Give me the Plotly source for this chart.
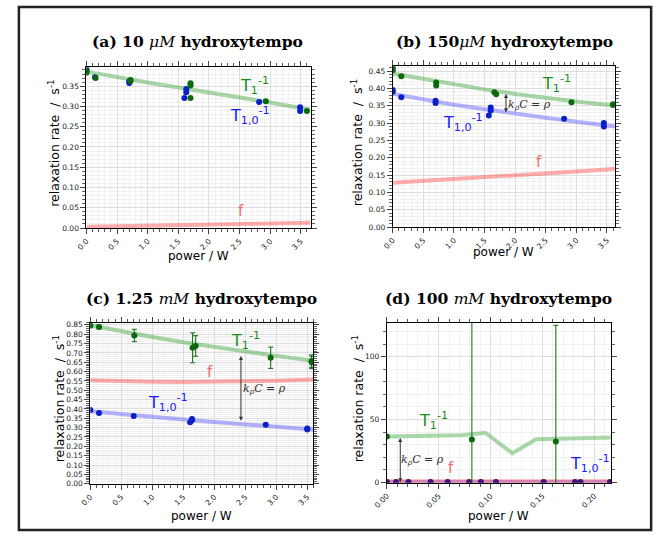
import plotly.graph_objects as go

W, H = 657, 542

# ---------------- data ----------------
# (a) 10 uM
a_t1_x = [0, 0, 0.15, 0.72, 0.72, 1.70, 1.70, 1.70, 2.93, 3.60]
a_t1_y = [0.389, 0.383, 0.370, 0.363, 0.365, 0.357, 0.352, 0.321, 0.313, 0.289]
a_t10_x = [0, 0, 0.14, 0.70, 0.70, 1.60, 1.63, 1.63, 2.82, 3.49, 3.49]
a_t10_y = [0.392, 0.386, 0.372, 0.358, 0.362, 0.321, 0.343, 0.335, 0.311, 0.298, 0.289]
a_fit_x = [0, 0.5, 1.0, 1.5, 2.0, 2.5, 3.0, 3.5, 3.66]
a_fit_t1 = [0.386, 0.372, 0.359, 0.347, 0.335, 0.322, 0.310, 0.296, 0.292]
a_fit_f = [0.003, 0.0045, 0.006, 0.0075, 0.009, 0.010, 0.011, 0.0125, 0.013]

# (b) 150 uM
b_t1_x = [0, 0, 0.14, 0.71, 0.71, 1.66, 1.69, 2.92, 3.60, 3.60]
b_t1_y = [0.460, 0.452, 0.435, 0.417, 0.408, 0.389, 0.383, 0.360, 0.354, 0.352]
b_t10_x = [0, 0, 0.14, 0.70, 0.70, 1.57, 1.60, 1.60, 2.80, 3.45, 3.45]
b_t10_y = [0.395, 0.390, 0.374, 0.364, 0.358, 0.322, 0.345, 0.336, 0.312, 0.300, 0.290]
b_fit_x = [0, 0.5, 1.0, 1.5, 2.0, 2.5, 3.0, 3.5, 3.63]
b_fit_t1 = [0.443, 0.427, 0.411, 0.397, 0.384, 0.372, 0.362, 0.353, 0.351]
b_fit_t10 = [0.384, 0.368, 0.353, 0.340, 0.327, 0.315, 0.304, 0.293, 0.290]
b_fit_f = [0.128, 0.133, 0.139, 0.144, 0.150, 0.155, 0.160, 0.166, 0.168]

# (c) 1.25 mM
c_t1_x = [0, 0.14, 0.71, 1.65, 1.70, 2.91, 3.57, 3.57]
c_t1_y = [0.845, 0.839, 0.793, 0.727, 0.737, 0.674, 0.656, 0.650]
c_t1_err = [0.008, 0.01, 0.033, 0.08, 0.055, 0.057, 0.033, 0.033]
c_t10_x = [0, 0.14, 0.70, 1.61, 1.64, 1.64, 2.83, 3.50, 3.50]
c_t10_y = [0.395, 0.378, 0.362, 0.329, 0.346, 0.340, 0.315, 0.296, 0.290]
c_fit_x = [0, 0.5, 1.0, 1.5, 2.0, 2.5, 3.0, 3.5, 3.6]
c_fit_t1 = [0.848, 0.815, 0.785, 0.757, 0.731, 0.706, 0.684, 0.662, 0.657]
c_fit_t10 = [0.388, 0.372, 0.357, 0.343, 0.330, 0.318, 0.307, 0.294, 0.290]
c_fit_f = [0.553, 0.548, 0.545, 0.544, 0.545, 0.547, 0.551, 0.556, 0.557]

# (d) 100 mM
d_t1_x = [0, 0.082, 0.163]
d_t1_y = [36.4, 34.1, 32.5]
d_t1_err = [0, 110, 92.5]
d_t10_x = [0, 0.0088, 0.0208, 0.0422, 0.0586, 0.0794, 0.0907, 0.1052, 0.1512, 0.1815, 0.1868, 0.2152]
d_t10_y = [0.3, 0.3, 0.3, 0.3, 0.3, 0.3, 0.3, 0.3, 0.3, 0.3, 0.3, 0.3]
d_fit_t1_x = [0, 0.072, 0.095, 0.121, 0.144, 0.216]
d_fit_t1 = [36.4, 37.5, 39.5, 23.1, 34.3, 35.6]
d_fit_x = [0, 0.216]
d_fit_t10 = [0.3, 0.3]
d_fit_f = [0.8, 0.8]

# tick labels
x_ticks_abc = [0.0, 0.5, 1.0, 1.5, 2.0, 2.5, 3.0, 3.5]
x_ticks_d = [0.00, 0.05, 0.10, 0.15, 0.20]
y_ticks_ab = [0.00, 0.05, 0.10, 0.15, 0.20, 0.25, 0.30, 0.35, 0.40, 0.45]
y_ticks_c = [0.00, 0.05, 0.10, 0.15, 0.20, 0.25, 0.30, 0.35, 0.40,
             0.45, 0.50, 0.55, 0.60, 0.65, 0.70, 0.75, 0.80, 0.85]
y_ticks_d = [0, 50, 100]

titles = ["<b>(a) 10 </b><i>μM</i><b> hydroxytempo</b>",
          "<b>(b) 150</b><i>μM</i><b> hydroxytempo</b>",
          "<b>(c) 1.25 </b><i>mM</i><b> hydroxytempo</b>",
          "<b>(d) 100 </b><i>mM</i><b> hydroxytempo</b>"]

# ---------------- style ----------------
GREEN_PT = "#0a6a0a"
BLUE_PT = "#0a1fc8"
GREEN_LINE = "rgba(40,155,40,0.40)"
BLUE_LINE = "rgba(60,60,255,0.38)"
RED_LINE = "rgba(255,60,60,0.42)"
GREEN_TXT = "#1c8c1c"
BLUE_TXT = "#1a1aff"
RED_TXT = "#f07070"

# pixel boxes (left, top, right, bottom)
boxes = [(74, 66, 303, 229), (387, 65, 614, 228), (78, 325, 306, 488), (381, 325, 610, 487)]

fig = go.Figure()


def ids(i):
    s = "" if i == 0 else str(i + 1)
    return "x" + s, "y" + s


def add_panel(i, fit_x, fit_t10, fit_t1, fit_f, t10_x, t10_y, t1_x, t1_y,
              t1_err=None, fit_t1_x=None, t10_color=BLUE_PT):
    xa, ya = ids(i)
    if fit_t10 is not None:
        fig.add_trace(go.Scatter(x=fit_x, y=fit_t10, mode="lines", line=dict(color=BLUE_LINE, width=4),
                                 xaxis=xa, yaxis=ya, showlegend=False, hoverinfo="skip"))
    fig.add_trace(go.Scatter(x=fit_t1_x if fit_t1_x is not None else fit_x, y=fit_t1, mode="lines",
                             line=dict(color=GREEN_LINE, width=4),
                             xaxis=xa, yaxis=ya, showlegend=False, hoverinfo="skip"))
    fig.add_trace(go.Scatter(x=fit_x, y=fit_f, mode="lines", line=dict(color=RED_LINE, width=4),
                             xaxis=xa, yaxis=ya, showlegend=False, hoverinfo="skip"))
    fig.add_trace(go.Scatter(x=t10_x, y=t10_y, mode="markers", marker=dict(color=t10_color, size=6),
                             xaxis=xa, yaxis=ya, showlegend=False, cliponaxis=True))
    err = None
    if t1_err is not None:
        err = dict(type="data", array=t1_err, color=GREEN_PT, thickness=1, width=2.5)
    fig.add_trace(go.Scatter(x=t1_x, y=t1_y, mode="markers", marker=dict(color=GREEN_PT, size=6),
                             error_y=err, xaxis=xa, yaxis=ya, showlegend=False, cliponaxis=True))


add_panel(0, a_fit_x, None, a_fit_t1, a_fit_f, a_t10_x, a_t10_y, a_t1_x, a_t1_y)
add_panel(1, b_fit_x, b_fit_t10, b_fit_t1, b_fit_f, b_t10_x, b_t10_y, b_t1_x, b_t1_y)
add_panel(2, c_fit_x, c_fit_t10, c_fit_t1, c_fit_f, c_t10_x, c_t10_y, c_t1_x, c_t1_y, t1_err=c_t1_err)
add_panel(3, d_fit_x, d_fit_t10, d_fit_t1, d_fit_f, d_t10_x, d_t10_y, d_t1_x, d_t1_y,
          t1_err=d_t1_err, fit_t1_x=d_fit_t1_x, t10_color="#3a1478")

TICKFONT = dict(family="DejaVu Sans", size=7.5, color="#222")


def axis_common(domain, anchor):
    return dict(domain=domain, anchor=anchor, showline=True, linecolor="black", linewidth=1,
                mirror="ticks", ticks="outside", ticklen=5, tickwidth=1, tickcolor="#444",
                showgrid=True, gridcolor="#dedede", gridwidth=1, zeroline=False,
                tickfont=TICKFONT, fixedrange=True)


x_ranges = [[0, 3.66], [0, 3.63], [0, 3.6], [0, 0.2162]]
y_ranges = [[0, 0.397], [0, 0.464], [0, 0.861], [-0.3, 127]]
x_tickvals = [x_ticks_abc, x_ticks_abc, x_ticks_abc, x_ticks_d]
x_fmt = [".1f", ".1f", ".1f", ".2f"]
x_minor = [0.1, 0.1, 0.1, 0.01]
y_tickvals = [y_ticks_ab, y_ticks_ab, y_ticks_c, y_ticks_d]
y_fmt = [".2f", ".2f", ".2f", "d"]
y_minor = [0.01, 0.01, 0.01, 10]

layout = {}
for i, (l, t, r, b) in enumerate(boxes):
    xa, ya = ids(i)
    xd = [l / W, r / W]
    yd = [1 - b / H, 1 - t / H]
    xax = axis_common(xd, ya)
    xax.update(range=x_ranges[i], tickmode="array", tickvals=x_tickvals[i],
               ticktext=[format(v, x_fmt[i]) for v in x_tickvals[i]], tickangle=-45,
               minor=dict(dtick=x_minor[i], tick0=0, ticks="outside", ticklen=3, tickcolor="#555",
                          showgrid=True, gridcolor="#f1f1f1"))
    yax = axis_common(yd, xa)
    yax.update(range=y_ranges[i], tickmode="array", tickvals=y_tickvals[i],
               ticktext=[format(v, y_fmt[i]) for v in y_tickvals[i]],
               minor=dict(dtick=y_minor[i], tick0=0, ticks="outside", ticklen=3, tickcolor="#666",
                          showgrid=True, gridcolor="#f1f1f1"))
    layout["xaxis" + ("" if i == 0 else str(i + 1))] = xax
    layout["yaxis" + ("" if i == 0 else str(i + 1))] = yax

fig.update_layout(**layout)


def PX(p):
    return p / W


def PY(p):
    return 1 - p / H


ann = []
# titles and axis labels
title_pos = [(188, 40), (501, 40), (192, 300), (495, 300)]
for i, (l, t, r, b) in enumerate(boxes):
    tx, ty = title_pos[i]
    ann.append(dict(text=titles[i], x=PX(tx), y=PY(ty), xref="paper", yref="paper",
                    showarrow=False, xanchor="center", yanchor="middle",
                    font=dict(family="DejaVu Serif", size=15.5, color="black")))
xlab_y = [257, 253, 521, 521]
ylab_x = [40, 350, 46, 351]
for i, (l, t, r, b) in enumerate(boxes):
    ann.append(dict(text="power / W", x=PX((l + r) / 2), y=PY(xlab_y[i]), xref="paper", yref="paper",
                    showarrow=False, xanchor="center", yanchor="middle",
                    font=dict(family="DejaVu Sans", size=12, color="black")))
    ann.append(dict(text="relaxation rate  /  s<sup>-1</sup>", x=PX(ylab_x[i]), y=PY((t + b) / 2 - 4),
                    xref="paper", yref="paper", showarrow=False, textangle=-90,
                    xanchor="center", yanchor="middle",
                    font=dict(family="DejaVu Sans", size=12.5, color="black")))


def label(x, y, sub, color):
    ann.append(dict(text="T<sub>%s</sub><sup>-1</sup>" % sub, x=PX(x), y=PY(y), xref="paper",
                    yref="paper", showarrow=False, xanchor="left", yanchor="middle",
                    font=dict(family="DejaVu Sans", size=16, color=color)))


def flabel(x, y):
    ann.append(dict(text="f", x=PX(x), y=PY(y), xref="paper", yref="paper", showarrow=False,
                    xanchor="center", yanchor="middle",
                    font=dict(family="DejaVu Sans", size=15, color=RED_TXT)))


# (a)
label(229, 85, "1", GREEN_TXT)
label(219, 115, "1,0", BLUE_TXT)
flabel(232, 212)
# (b)
label(537, 83, "1", GREEN_TXT)
label(436, 122, "1,0", BLUE_TXT)
flabel(536, 162)
# (c)
label(220, 343, "1", GREEN_TXT)
label(135, 406, "1,0", BLUE_TXT)
flabel(200, 375)
# (d)
label(412, 424, "1", GREEN_TXT)
label(566, 468, "1,0", BLUE_TXT)
flabel(447, 472)

# k_rho C = rho arrows and texts
KTXT = "<i>k</i><sub><i>ρ</i></sub><i>C</i> = <i>ρ</i>"
arrows = [(1, 1.85, 0.388, 0.331, 527, 104), (2, 2.43, 0.692, 0.337, 256, 392), (3, 0.0129, 36.4, 0.0, 417, 464)]
for i, xv, ytop, ybot, tx, ty in arrows:
    xa, ya = ids(i)
    ann.append(dict(x=xv, y=ybot, ax=xv, ay=ytop, xref=xa, yref=ya, axref=xa, ayref=ya,
                    text="", showarrow=True, arrowhead=2, startarrowhead=2, arrowside="end+start",
                    arrowsize=0.8, arrowwidth=1, arrowcolor="#333"))
    ann.append(dict(text=KTXT, x=PX(tx), y=PY(ty), xref="paper", yref="paper", showarrow=False,
                    xanchor="center", yanchor="middle",
                    font=dict(family="DejaVu Serif", size=11, color="#333")))

fig.update_layout(
    annotations=ann,
    width=W, height=H, margin=dict(l=0, r=0, t=0, b=0),
    paper_bgcolor="white", plot_bgcolor="white", showlegend=False,
    shapes=[dict(type="rect", xref="paper", yref="paper", x0=PX(5), x1=PX(651), y0=PY(535), y1=PY(5),
                 line=dict(color="#222", width=2.5), fillcolor="rgba(0,0,0,0)", layer="above")],
)

fig.write_html("out.html", config={"displayModeBar": False},
               post_script="document.body.style.margin='0';document.body.style.overflow='hidden';")
